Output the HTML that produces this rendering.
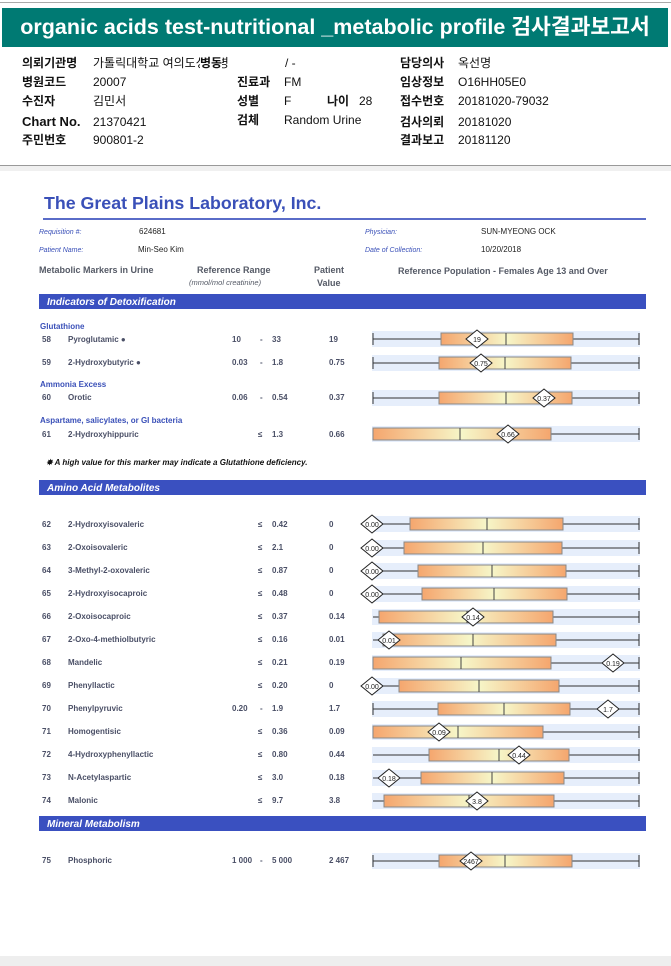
<!DOCTYPE html>
<html><head><meta charset="utf-8"><style>
html,body{margin:0;padding:0;background:#fff;}
body{width:671px;height:966px;position:relative;overflow:hidden;font-family:"Liberation Sans","Noto Sans CJK KR",sans-serif;}
.t{position:absolute;font-size:12px;line-height:16px;height:16px;color:#111;white-space:nowrap;}
.b{font-weight:bold;}
</style></head><body>
<div style="position:absolute;left:0;top:2px;width:671px;height:1px;background:#aaa"></div>
<div style="position:absolute;left:2px;top:8px;width:666px;height:39px;background:#007a73;color:#fff;font-size:21.5px;font-weight:bold;line-height:39px;text-align:center;font-family:'Liberation Sans','Noto Sans CJK KR',sans-serif">organic acids test-nutritional _metabolic profile 검사결과보고서</div>

<div class="t b" style="left:22px;top:55px">의뢰기관명</div><div class="t" style="left:93px;top:55px">가톨릭대학교 여의도성모병</div><div class="t b" style="left:200px;top:55px;background:#fff">병동</div><div class="t" style="left:285px;top:55px">/ -</div>
<div class="t b" style="left:400px;top:55px">담당의사</div><div class="t" style="left:458px;top:55px">옥선명</div>
<div class="t b" style="left:22px;top:74px">병원코드</div><div class="t" style="left:93px;top:74px">20007</div>
<div class="t b" style="left:237px;top:74px">진료과</div><div class="t" style="left:284px;top:74px">FM</div>
<div class="t b" style="left:400px;top:74px">임상정보</div><div class="t" style="left:458px;top:74px">O16HH05E0</div>
<div class="t b" style="left:22px;top:93px">수진자</div><div class="t" style="left:93px;top:93px">김민서</div>
<div class="t b" style="left:237px;top:93px">성별</div><div class="t" style="left:284px;top:93px">F</div>
<div class="t b" style="left:327px;top:93px">나이</div><div class="t" style="left:359px;top:93px">28</div>
<div class="t b" style="left:400px;top:93px">접수번호</div><div class="t" style="left:458px;top:93px">20181020-79032</div>
<div class="t b" style="left:22px;top:114px;font-size:13px">Chart No.</div><div class="t" style="left:93px;top:114px">21370421</div>
<div class="t b" style="left:237px;top:112px">검체</div><div class="t" style="left:284px;top:112px">Random Urine</div>
<div class="t b" style="left:400px;top:114px">검사의뢰</div><div class="t" style="left:458px;top:114px">20181020</div>
<div class="t b" style="left:22px;top:132px">주민번호</div><div class="t" style="left:93px;top:132px">900801-2</div>
<div class="t b" style="left:400px;top:132px">결과보고</div><div class="t" style="left:458px;top:132px">20181120</div>

<div style="position:absolute;left:0;top:165px;width:671px;height:1px;background:#999"></div>
<div style="position:absolute;left:0;top:166px;width:671px;height:5px;background:#f0f0f0"></div>
<div style="position:absolute;left:0;top:956px;width:671px;height:10px;background:#eeeeee"></div>

<svg style="position:absolute;left:0;top:0" width="671" height="966" font-family="Liberation Sans, Arial, sans-serif">
<defs>
<linearGradient id="g" x1="0" x2="1" y1="0" y2="0">
<stop offset="0" stop-color="#f5a66e"/><stop offset="0.5" stop-color="#f6f6c8"/><stop offset="1" stop-color="#f5a66e"/>
</linearGradient>
</defs>
<text x="44" y="209" font-size="17.8" font-weight="bold" fill="#3a50b8">The Great Plains Laboratory, Inc.</text>
<rect x="43" y="218" width="603" height="2" fill="#5a6cc8"/>
<g font-size="7" font-style="italic" fill="#3a50b8">
<text x="39" y="234">Requisition #:</text><text x="39" y="252">Patient Name:</text>
<text x="365" y="234">Physician:</text><text x="365" y="252">Date of Collection:</text></g>
<g font-size="8" fill="#222"><text x="139" y="234">624681</text><text x="138" y="252">Min-Seo Kim</text>
<text x="481" y="234">SUN-MYEONG OCK</text><text x="481" y="252">10/20/2018</text></g>
<g font-size="9" font-weight="bold" fill="#555a66">
<text x="39" y="273">Metabolic Markers in Urine</text>
<text x="197" y="273">Reference Range</text>
<text x="314" y="273">Patient</text><text x="317" y="286">Value</text>
<text x="398" y="274">Reference Population - Females Age 13 and Over</text></g>
<text x="189" y="285" font-size="7.5" font-style="italic" fill="#555a66">(mmol/mol creatinine)</text>

<rect x="39" y="294" width="607" height="15" fill="#3a50c0"/>
<text x="47" y="305" font-size="10" font-weight="bold" font-style="italic" fill="#fff">Indicators of Detoxification</text>
<rect x="39" y="480" width="607" height="15" fill="#3a50c0"/>
<text x="47" y="491" font-size="10" font-weight="bold" font-style="italic" fill="#fff">Amino Acid Metabolites</text>
<rect x="39" y="816" width="607" height="15" fill="#3a50c0"/>
<text x="47" y="827" font-size="10" font-weight="bold" font-style="italic" fill="#fff">Mineral Metabolism</text>

<g font-size="8" fill="#3a50b8" font-weight="bold">
<text x="40" y="329">Glutathione</text><text x="40" y="387">Ammonia Excess</text><text x="40" y="423">Aspartame, salicylates, or GI bacteria</text></g>
<text x="46" y="465" font-size="8" font-style="italic" font-weight="bold" fill="#111">✸  A high value for this marker may indicate a Glutathione deficiency.</text>

<g font-size="8" font-weight="bold" fill="#4a4f66">
<text x="42" y="342">58</text><text x="68" y="342">Pyroglutamic ●</text><text x="232" y="342">10</text><text x="260" y="342">-</text><text x="272" y="342">33</text><text x="329" y="342">19</text>
<text x="42" y="365">59</text><text x="68" y="365">2-Hydroxybutyric ●</text><text x="232" y="365">0.03</text><text x="260" y="365">-</text><text x="272" y="365">1.8</text><text x="329" y="365">0.75</text>
<text x="42" y="400">60</text><text x="68" y="400">Orotic</text><text x="232" y="400">0.06</text><text x="260" y="400">-</text><text x="272" y="400">0.54</text><text x="329" y="400">0.37</text>
<text x="42" y="437">61</text><text x="68" y="437">2-Hydroxyhippuric</text><text x="258" y="437">≤</text><text x="272" y="437">1.3</text><text x="329" y="437">0.66</text>
<text x="42" y="527">62</text><text x="68" y="527">2-Hydroxyisovaleric</text><text x="258" y="527">≤</text><text x="272" y="527">0.42</text><text x="329" y="527">0</text>
<text x="42" y="550">63</text><text x="68" y="550">2-Oxoisovaleric</text><text x="258" y="550">≤</text><text x="272" y="550">2.1</text><text x="329" y="550">0</text>
<text x="42" y="573">64</text><text x="68" y="573">3-Methyl-2-oxovaleric</text><text x="258" y="573">≤</text><text x="272" y="573">0.87</text><text x="329" y="573">0</text>
<text x="42" y="596">65</text><text x="68" y="596">2-Hydroxyisocaproic</text><text x="258" y="596">≤</text><text x="272" y="596">0.48</text><text x="329" y="596">0</text>
<text x="42" y="619">66</text><text x="68" y="619">2-Oxoisocaproic</text><text x="258" y="619">≤</text><text x="272" y="619">0.37</text><text x="329" y="619">0.14</text>
<text x="42" y="642">67</text><text x="68" y="642">2-Oxo-4-methiolbutyric</text><text x="258" y="642">≤</text><text x="272" y="642">0.16</text><text x="329" y="642">0.01</text>
<text x="42" y="665">68</text><text x="68" y="665">Mandelic</text><text x="258" y="665">≤</text><text x="272" y="665">0.21</text><text x="329" y="665">0.19</text>
<text x="42" y="688">69</text><text x="68" y="688">Phenyllactic</text><text x="258" y="688">≤</text><text x="272" y="688">0.20</text><text x="329" y="688">0</text>
<text x="42" y="711">70</text><text x="68" y="711">Phenylpyruvic</text><text x="232" y="711">0.20</text><text x="260" y="711">-</text><text x="272" y="711">1.9</text><text x="329" y="711">1.7</text>
<text x="42" y="734">71</text><text x="68" y="734">Homogentisic</text><text x="258" y="734">≤</text><text x="272" y="734">0.36</text><text x="329" y="734">0.09</text>
<text x="42" y="757">72</text><text x="68" y="757">4-Hydroxyphenyllactic</text><text x="258" y="757">≤</text><text x="272" y="757">0.80</text><text x="329" y="757">0.44</text>
<text x="42" y="780">73</text><text x="68" y="780">N-Acetylaspartic</text><text x="258" y="780">≤</text><text x="272" y="780">3.0</text><text x="329" y="780">0.18</text>
<text x="42" y="803">74</text><text x="68" y="803">Malonic</text><text x="258" y="803">≤</text><text x="272" y="803">9.7</text><text x="329" y="803">3.8</text>
<text x="42" y="863">75</text><text x="68" y="863">Phosphoric</text><text x="232" y="863">1 000</text><text x="260" y="863">-</text><text x="272" y="863">5 000</text><text x="329" y="863">2 467</text>
</g>

<g stroke="#333" stroke-width="1">
<g fill="#e6eefb" stroke="none">
<rect x="372" y="331" width="268" height="16"/><rect x="372" y="355" width="268" height="16"/><rect x="372" y="390" width="268" height="16"/><rect x="372" y="426" width="268" height="16"/>
<rect x="372" y="516" width="268" height="16"/><rect x="372" y="540" width="268" height="16"/><rect x="372" y="563" width="268" height="16"/><rect x="372" y="586" width="268" height="16"/>
<rect x="372" y="609" width="268" height="16"/><rect x="372" y="632" width="268" height="16"/><rect x="372" y="655" width="268" height="16"/><rect x="372" y="678" width="268" height="16"/>
<rect x="372" y="701" width="268" height="16"/><rect x="372" y="724" width="268" height="16"/><rect x="372" y="747" width="268" height="16"/><rect x="372" y="770" width="268" height="16"/>
<rect x="372" y="793" width="268" height="16"/><rect x="372" y="853" width="268" height="16"/></g>
<path d="M373 339H639M373 363H639M373 398H639M373 434H639M372 524H639M372 548H639M372 571H639M372 594H639M373 617H639M373 640H639M373 663H639M372 686H639M373 709H639M373 732H639M373 755H639M373 778H639M373 801H639M373 861H639"/>
<path d="M639 333V345M639 357V369M639 392V404M639 428V440M639 518V530M639 542V554M639 565V577M639 588V600M639 611V623M639 634V646M639 657V669M639 680V692M639 703V715M639 726V738M639 749V761M639 772V784M639 795V807M639 855V867M373 333V345M373 357V369M373 392V404M373 703V715M373 855V867"/>
<g fill="url(#g)" stroke="#888">
<rect x="441" y="333" width="132" height="12"/><rect x="439" y="357" width="132" height="12"/><rect x="439" y="392" width="133" height="12"/><rect x="373" y="428" width="178" height="12"/>
<rect x="410" y="518" width="153" height="12"/><rect x="404" y="542" width="158" height="12"/><rect x="418" y="565" width="148" height="12"/><rect x="422" y="588" width="145" height="12"/>
<rect x="379" y="611" width="174" height="12"/><rect x="383" y="634" width="173" height="12"/><rect x="373" y="657" width="178" height="12"/><rect x="399" y="680" width="160" height="12"/>
<rect x="438" y="703" width="132" height="12"/><rect x="373" y="726" width="170" height="12"/><rect x="429" y="749" width="140" height="12"/><rect x="421" y="772" width="143" height="12"/>
<rect x="384" y="795" width="170" height="12"/><rect x="439" y="855" width="133" height="12"/></g>
<path stroke="#444" d="M506 333V345M505 357V369M506 392V404M460 428V440M487 518V530M483 542V554M492 565V577M494 588V600M467 611V623M473 634V646M461 657V669M479 680V692M504 703V715M458 726V738M499 749V761M492 772V784M469 795V807M505 855V867"/>
<g fill="#fff" stroke="#222">
<polygon points="466,339 477,330 488,339 477,348"/><polygon points="470,363 481,354 492,363 481,372"/><polygon points="533,398 544,389 555,398 544,407"/><polygon points="497,434 508,425 519,434 508,443"/>
<polygon points="361,524 372,515 383,524 372,533"/><polygon points="361,548 372,539 383,548 372,557"/><polygon points="361,571 372,562 383,571 372,580"/><polygon points="361,594 372,585 383,594 372,603"/>
<polygon points="462,617 473,608 484,617 473,626"/><polygon points="378,640 389,631 400,640 389,649"/><polygon points="602,663 613,654 624,663 613,672"/><polygon points="361,686 372,677 383,686 372,695"/>
<polygon points="597,709 608,700 619,709 608,718"/><polygon points="428,732 439,723 450,732 439,741"/><polygon points="508,755 519,746 530,755 519,764"/><polygon points="378,778 389,769 400,778 389,787"/>
<polygon points="466,801 477,792 488,801 477,810"/><polygon points="460,861 471,852 482,861 471,870"/></g>
</g>
<g font-size="7" fill="#222" text-anchor="middle">
<text x="477" y="342">19</text><text x="481" y="366">0.75</text><text x="544" y="401">0.37</text><text x="508" y="437">0.66</text>
<text x="372" y="527">0.00</text><text x="372" y="551">0.00</text><text x="372" y="574">0.00</text><text x="372" y="597">0.00</text>
<text x="473" y="620">0.14</text><text x="389" y="643">0.01</text><text x="613" y="666">0.19</text><text x="372" y="689">0.00</text>
<text x="608" y="712">1.7</text><text x="439" y="735">0.09</text><text x="519" y="758">0.44</text><text x="389" y="781">0.18</text>
<text x="477" y="804">3.8</text><text x="471" y="864">2467</text></g>
</svg>
</body></html>
